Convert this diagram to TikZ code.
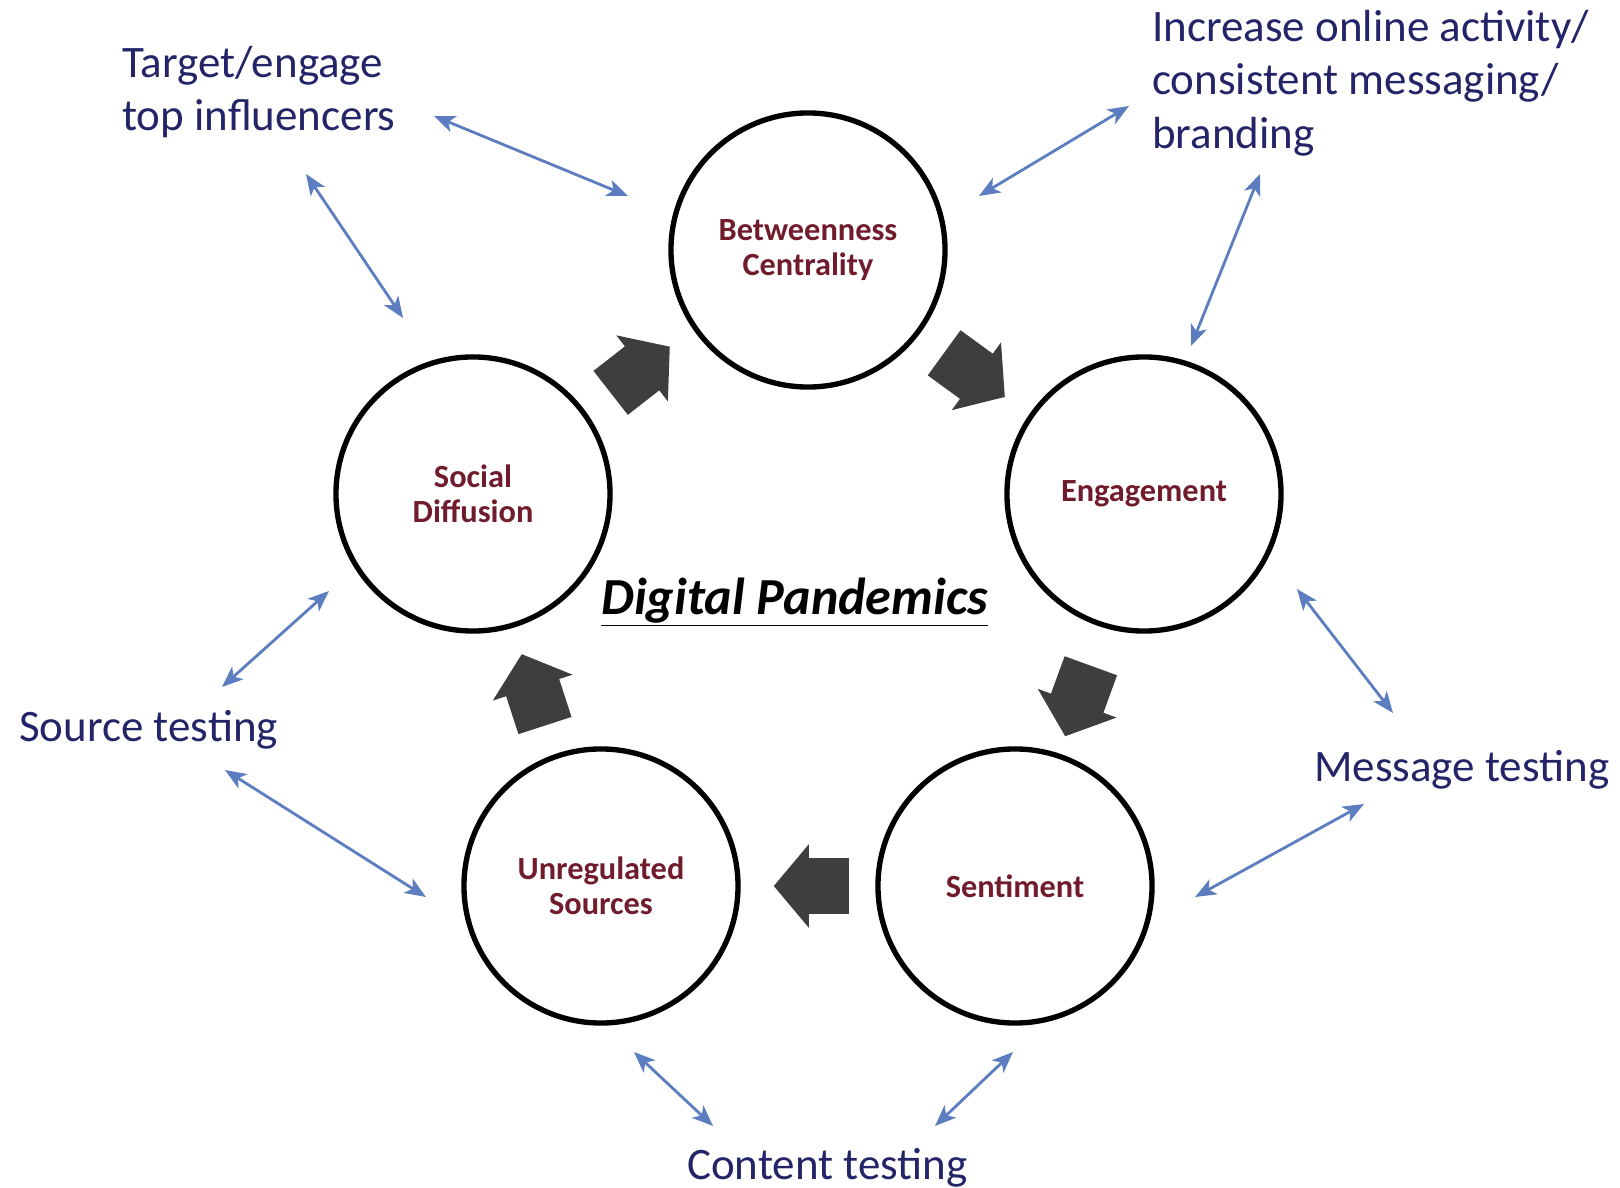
\documentclass[tikz,border=0pt]{standalone}
\usepackage{fontspec}
\setmainfont{Carlito}
\usetikzlibrary{arrows.meta,shapes.arrows}
\definecolor{stagered}{RGB}{112,28,44}
\definecolor{actionblue}{RGB}{36,36,104}
\definecolor{linkblue}{RGB}{92,126,192}
\definecolor{flowgray}{RGB}{62,62,62}
\tikzstyle{stage}=[draw, circle, line width=3.8pt, minimum size=6.85cm, align=center, text=stagered, font=\fontsize{23}{25}\selectfont\bfseries]
\tikzstyle{action}=[text=actionblue, align=left, inner sep=0pt, anchor=west, font=\fontsize{32}{38}\selectfont]
\tikzstyle{flow}=[single arrow, fill=flowgray, inner xsep=0pt, inner ysep=0.69cm, minimum height=1.875cm, single arrow head extend=0.35cm, single arrow tip angle=100]
\tikzstyle{link}=[<->, >={Stealth[length=15pt,width=12pt,inset=4pt]}, draw=linkblue, line width=2pt]

\begin{document}
\begin{tikzpicture}[x=0.025cm,y=-0.025cm]
\useasboundingbox (0,0) rectangle (1620,1188);
% stages
\node [stage] (bc) at (808,250) {Betweenness\\Centrality};
\node [stage] (en) at (1144,494) {Engagement};
\node [stage] (sd) at (473,494) {Social\\Diffusion};
\node [stage] (us) at (601,886) {Unregulated\\Sources};
\node [stage] (se) at (1015,886) {Sentiment};
\node [anchor=west, inner sep=0pt, font=\fontsize{37}{40}\selectfont\bfseries\itshape] (dp) at (601,602) {\underline{Digital Pandemics}};
% flow between stages
\node [flow, rotate=38] (f1) at (631,377) {};
\node [flow, rotate=-36] (f2) at (965,368) {};
\node [flow, rotate=-110] (f3) at (1082,690) {};
\node [flow, rotate=180] (f4) at (823,886) {};
\node [flow, rotate=108] (f5) at (537,701) {};
% actions
\node [action] (tg) at (122,92) {Target/engage\\top influencers};
\node [action] (io) at (1152,83) {Increase online activity/\\consistent messaging/\\branding};
\node [action] (st) at (19,730) {Source testing};
\node [action] (mt) at (1314,770) {Message testing};
\node [action] (ct) at (687,1168) {Content testing};
% link ends
\coordinate (tg-bc) at (434,116); \coordinate (bc-tg) at (628,196);
\coordinate (tg-sd) at (306,174); \coordinate (sd-tg) at (403,318);
\coordinate (bc-io) at (979,196); \coordinate (io-bc) at (1129,106);
\coordinate (io-en) at (1260,174); \coordinate (en-io) at (1191,346);
\coordinate (en-mt) at (1297,589); \coordinate (mt-en) at (1393,713);
\coordinate (se-mt) at (1195,897); \coordinate (mt-se) at (1364,804);
\coordinate (ct-se) at (935,1126); \coordinate (se-ct) at (1013,1052);
\coordinate (us-ct) at (634,1052); \coordinate (ct-us) at (713,1126);
\coordinate (st-us) at (225,770); \coordinate (us-st) at (426,897);
\coordinate (sd-st) at (329,591); \coordinate (st-sd) at (222,687);
\draw [link] (tg-bc) -- (bc-tg);
\draw [link] (tg-sd) -- (sd-tg);
\draw [link] (bc-io) -- (io-bc);
\draw [link] (io-en) -- (en-io);
\draw [link] (en-mt) -- (mt-en);
\draw [link] (se-mt) -- (mt-se);
\draw [link] (ct-se) -- (se-ct);
\draw [link] (us-ct) -- (ct-us);
\draw [link] (st-us) -- (us-st);
\draw [link] (sd-st) -- (st-sd);
\end{tikzpicture}
\end{document}
